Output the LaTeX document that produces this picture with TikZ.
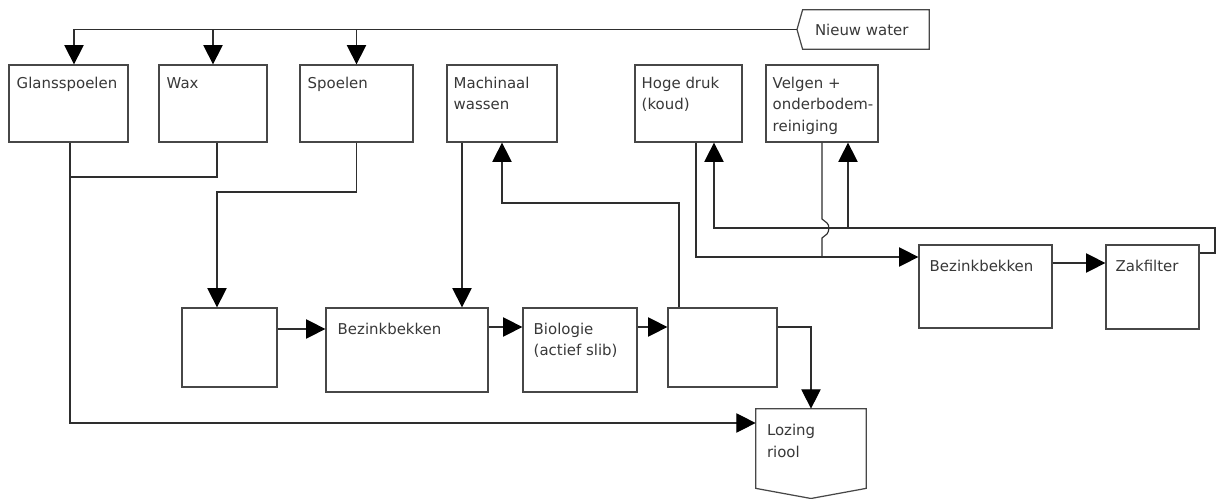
\documentclass[tikz,border=0pt]{standalone}
\usepackage{fontspec}
\setmainfont{DejaVu Sans}
\usetikzlibrary{arrows.meta,calc}
% multi-line label whose baseline is the first line
\newcommand{\txtlines}[1]{\begin{tabular}[t]{@{}l@{}}#1\end{tabular}}

\begin{document}
\begin{tikzpicture}[x=0.02cm,y=-0.02cm,
  box/.style={draw=black!72, line width=0.7pt, inner sep=0pt, fill=white},
  frame/.style={inner sep=0pt},
  sized/.style 2 args={minimum width=#1*0.02cm, minimum height=#2*0.02cm},
  txt/.style={anchor=base west, inner sep=0pt, font=\fontsize{8.5}{12.3}\selectfont, text=black!78},
  conn/.style={draw=black!82, line width=0.65pt},
  arr/.style={conn, -{Triangle[length=11pt 0 0,width=11pt 0 0,color=black]}},
]
\fill[white] (0,0) rectangle (1221,499);
\useasboundingbox (0,0) rectangle (1221,499);

% ---- top row: washing stations
\node[box, sized={119}{77}] (glans) at (68.5,103.5) {};
\node[box, sized={108}{77}] (wax)   at (213,103.5) {};
\node[box, sized={113}{77}] (spoel) at (356.5,103.5) {};
\node[box, sized={110}{77}] (mach)  at (502,103.5) {};
\node[box, sized={107}{77}] (hoge)  at (688.5,103.5) {};
\node[box, sized={112}{77}] (velg)  at (822,103.5) {};

% ---- treatment line
\node[box, sized={95}{79}]  (box1) at (229.5,347.5) {};
\node[box, sized={162}{84}] (bez1) at (407,350) {};
\node[box, sized={114}{84}] (bio)  at (580,350) {};
\node[box, sized={109}{79}] (box4) at (722.5,347.5) {};
\node[box, sized={133}{83}] (bez2) at (985.5,286.5) {};
\node[box, sized={93}{84}]  (zak)  at (1152.5,287) {};

% ---- sewer discharge (box with pointed bottom)
\node[frame, sized={110}{79}] (loz) at (811,448.5) {};
\coordinate (lozpt) at (811,498.5);
\draw[box] (loz.north west) -- (loz.north east) -- (loz.south east)
  -- (lozpt) -- (loz.south west) -- cycle;

% ---- fresh water supply (pointing left)
\node[frame, sized={126}{39}] (nw) at (866,29.5) {};
\coordinate (nwtip) at (797,29.5);
\draw[box] (nw.north west) -- (nw.north east) -- (nw.south east)
  -- (nw.south west) -- (nwtip) -- cycle;

% ---- labels
\node[txt] (glans-t) at ([shift={(8,24)}]glans.north west) {Glansspoelen};
\node[txt] (wax-t)   at ([shift={(8,24)}]wax.north west) {Wax};
\node[txt] (spoel-t) at ([shift={(8,24)}]spoel.north west) {Spoelen};
\node[txt] (mach-t)  at ([shift={(7,24)}]mach.north west) {\txtlines{Machinaal\\wassen}};
\node[txt] (hoge-t)  at ([shift={(7,24)}]hoge.north west) {\txtlines{Hoge druk\\(koud)}};
\node[txt] (velg-t)  at ([shift={(7,24)}]velg.north west) {\txtlines{Velgen +\\onderbodem-\\reiniging}};
\node[txt] (bez1-t)  at ([shift={(12,27)}]bez1.north west) {Bezinkbekken};
\node[txt] (bio-t)   at ([shift={(11,27)}]bio.north west) {\txtlines{Biologie\\(actief slib)}};
\node[txt] (bez2-t)  at ([shift={(11,27)}]bez2.north west) {Bezinkbekken};
\node[txt] (zak-t)   at ([shift={(10,27)}]zak.north west) {Zakfilter};
\node[txt] (loz-t)   at ([shift={(11,27)}]loz.north west) {\txtlines{Lozing\\riool}};
\node[txt] (nw-t)    at ([shift={(12,25.5)}]nw.north west) {Nieuw water};

% ---- bend points
\coordinate (wj) at (70,177);
\coordinate (sj) at (217,192);
\coordinate (mj) at (502,203);
\coordinate (hj) at (696,257);
\coordinate (rt) at (1215,228);
\coordinate (jt) at (822,219);
\coordinate (jb) at (822,238);

% ---- fresh water distribution
\draw[arr] (nwtip) -| ([xshift=0.11cm]glans.north);
\draw[arr] (wax.north |- nwtip) -- (wax.north);
\draw[arr] (spoel.north |- nwtip) -- (spoel.north);

% ---- rinse water straight to the sewer
\draw[arr] ([xshift=0.03cm]glans.south) |- ([yshift=0.51cm]loz.west);
\draw[conn] ([xshift=0.08cm]wax.south) |- (wj);

% ---- treatment chain
\draw[arr] (spoel.south) |- (sj) -- (sj |- box1.north);
\coordinate (mdown) at ([xshift=-0.8cm]mach.south);
\draw[arr] (mdown) -- (mdown |- bez1.north);
\draw[arr] ([xshift=-0.87cm]box4.north) |- (mj) -- (mach.south);
\coordinate (e1) at ([yshift=0.37cm]box1.east);
\draw[arr] (e1) -- (e1 -| bez1.west);
\coordinate (e2) at ([yshift=0.46cm]bez1.east);
\draw[arr] (e2) -- (e2 -| bio.west);
\coordinate (e3) at ([yshift=0.46cm]bio.east);
\draw[arr] (e3) -- (e3 -| box4.west);
\draw[arr] ([yshift=0.41cm]box4.east) -| (loz.north);

% ---- high pressure / rim cleaning loop
\draw[arr] ([xshift=0.15cm]hoge.south) |- ([yshift=0.59cm]bez2.west);
\draw[conn] (velg.south) -- (jt) -- (827,223)
  .. controls (829.5,225) and (829.5,231) .. (827,234) -- (jb) -- (velg.south |- hj);
\coordinate (e4) at ([yshift=0.47cm]bez2.east);
\draw[arr] (e4) -- (e4 -| zak.west);
\draw[arr] ([yshift=0.68cm]zak.east) -| (rt) -| ([xshift=0.51cm]hoge.south);
\coordinate (vup) at ([xshift=0.52cm]velg.south);
\draw[arr] (vup |- rt) -- (vup);
\end{tikzpicture}
\end{document}
